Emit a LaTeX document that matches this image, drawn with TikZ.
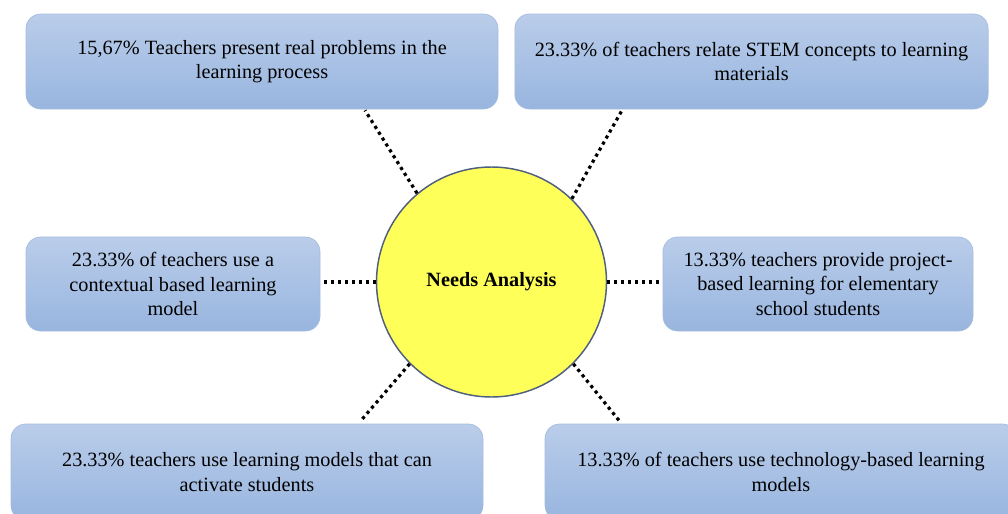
\documentclass[tikz,border=0pt]{standalone}
\usepackage{fontspec}
\setmainfont{Liberation Serif}
\usetikzlibrary{calc}
\definecolor{boxtop}{RGB}{186,205,234}
\definecolor{boxbot}{RGB}{152,181,223}
\definecolor{boxline}{RGB}{165,188,222}
\definecolor{hubfill}{RGB}{255,255,90}
\definecolor{hubline}{RGB}{80,95,125}
\begin{document}
\begin{tikzpicture}[x=0.75pt,y=-0.75pt,
  infobox/.style={rounded corners=11pt, top color=boxtop, bottom color=boxbot,
    draw=boxline, line width=0.5pt, align=center, inner sep=0pt,
    font=\fontsize{15.2}{18.3}\selectfont},
  hub/.style={circle, fill=hubfill, draw=hubline, line width=1.1pt,
    minimum size=172.5pt, inner sep=0pt, font=\bfseries\fontsize{15.2}{18.3}\selectfont},
  link/.style={line width=2.4pt, dash pattern=on 2.4pt off 2.8pt}]
\useasboundingbox (0,0) rectangle (1008,514);

% central circle
\node[hub] (c) at (491.5,282) {Needs Analysis};

% surrounding boxes
\node[infobox, minimum width=354pt, minimum height=71.25pt] (tl) at (262,61.5)
  {15,67\% Teachers present real problems in the\\ learning process};
\node[infobox, minimum width=355pt, minimum height=71.25pt] (tr) at (751.5,61.5)
  {23.33\% of teachers relate STEM concepts to learning\\ materials};
\node[infobox, minimum width=220.5pt, minimum height=70.5pt] (ml) at (173,284)
  {23.33\% of teachers use a\\ contextual based learning\\ model};
\node[infobox, minimum width=232.5pt, minimum height=70.5pt] (mr) at (818,284)
  {13.33\% teachers provide project-\\ based learning for elementary\\ school students};
\node[infobox, minimum width=354pt, minimum height=72pt] (bl) at (247,472)
  {23.33\% teachers use learning models that can\\ activate students};
\node[infobox, minimum width=354pt, minimum height=72pt] (br) at (781,472)
  {13.33\% of teachers use technology-based learning\\ models};

% free ends of the dotted links on the box edges
\coordinate (tlend) at ($(tl.south)+(103,1)$);
\coordinate (trend) at ($(tr.south)+(-129.5,1)$);
\coordinate (blend) at ($(bl.north)+(113,-2)$);
\coordinate (brend) at ($(br.north)+(-161,-2)$);

% dotted links
\draw[link] (c.130) -- (tlend);
\draw[link] (c.46) -- (trend);
\draw[link] (c.west) -- (c.west -| ml.east);
\draw[link] (c.east) -- (c.east -| mr.west);
\draw[link] (c.225) -- (blend);
\draw[link] (c.315) -- (brend);
\end{tikzpicture}
\end{document}
